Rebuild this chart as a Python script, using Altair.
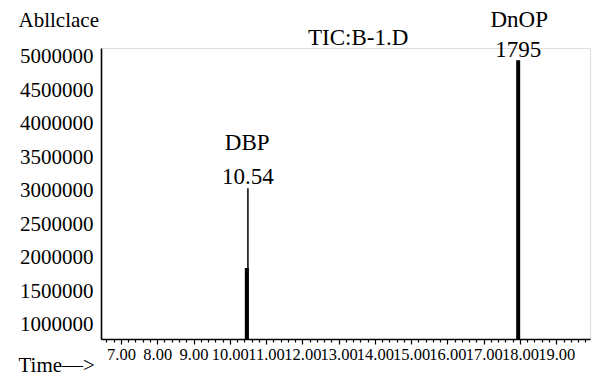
import altair as alt
import pandas as pd

# Peaks (retention time in min, abundance)
peak_time = [10.47, 10.50, 17.95]
peak_height = [1850000, 3040000, 4950000]
peak_kind = ["thick", "thin", "thick"]

# Annotations
ann_text = ["DBP", "10.54", "DnOP", "1795", "TIC:B-1.D"]
ann_time = [10.48, 10.50, 17.98, 17.95, 13.54]
ann_value = [3716000, 3209000, 5552000, 5104000, 5283000]

y_ticks = [1000000, 1500000, 2000000, 2500000, 3000000, 3500000, 4000000, 4500000, 5000000]
x_min, x_max = 6.45, 19.93
y_min, y_max = 791000, 5134000

x_tick_values = [round(6.6 + 0.2 * i, 1) for i in range(67)]

FONT = "Liberation Serif"

peaks = pd.DataFrame({"t": peak_time, "h": peak_height, "k": peak_kind, "b": [y_min] * 3})
ann = pd.DataFrame({"text": ann_text, "t": ann_time, "v": ann_value})

is_major = "abs(datum.value - round(datum.value)) < 0.01"

xscale = alt.Scale(domain=[x_min, x_max], nice=False, zero=False)
yscale = alt.Scale(domain=[y_min, y_max], nice=False, zero=False)

xaxis = alt.Axis(
    title="Time\u2014>", titleFont=FONT, titleFontSize=21, titleFontWeight="normal",
    titleAnchor="start", titleAlign="left", titleBaseline="middle", titleX=-83, titleY=26,
    values=x_tick_values, labelExpr=f"{is_major} ? format(datum.value, '.2f') : ''",
    labelFont=FONT, labelFontSize=16.5, labelColor="black", labelOverlap=False,
    labelFlush=False, labelBound=False, labelPadding=2,
    tickColor="black", tickWidth=1.2,
    tickSize={"condition": {"test": is_major, "value": 5}, "value": 3},
    domainColor="black", domainWidth=1.6, grid=False)
yaxis = alt.Axis(
    title="Abllclace", titleFont=FONT, titleFontSize=21, titleFontWeight="normal",
    titleAngle=0, titleAlign="left", titleBaseline="middle", titleX=-83, titleY=-28,
    values=y_ticks, format="d", labelFont=FONT, labelFontSize=21, labelColor="black",
    labelPadding=8, ticks=False, domainColor="black", domainWidth=1.6, grid=False,
    labelOverlap=False, labelFlush=False, labelBound=False)

rules = alt.Chart(peaks).mark_rule(color="black").encode(
    x=alt.X("t:Q", scale=xscale, axis=xaxis),
    y=alt.Y("h:Q", scale=yscale, axis=yaxis),
    y2="b:Q",
    strokeWidth=alt.StrokeWidth("k:N", scale=alt.Scale(domain=["thick", "thin"], range=[4, 1.5]), legend=None),
)

texts = alt.Chart(ann).mark_text(font=FONT, fontSize=23, color="black", baseline="middle", clip=False).encode(
    x=alt.X("t:Q", scale=xscale, axis=xaxis),
    y=alt.Y("v:Q", scale=yscale, axis=yaxis),
    text="text:N",
)

chart = alt.layer(rules, texts).properties(
    width=489, height=291,
    autosize=alt.AutoSizeParams(type="none"),
    padding={"left": 101, "top": 48, "right": 2, "bottom": 39},
).configure_view(stroke=None).configure(background="white")

chart.save("out.html", embed_options={"renderer": "svg", "actions": False})
